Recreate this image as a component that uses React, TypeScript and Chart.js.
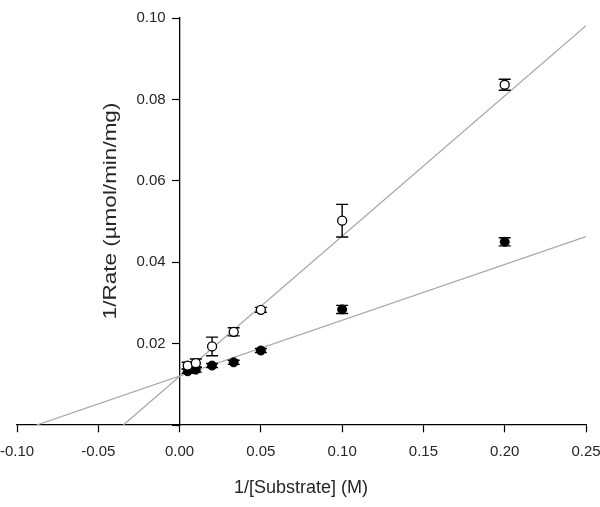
import React, { useEffect, useRef } from 'react';
import { Chart, registerables } from 'chart.js';

Chart.register(...registerables);

// ---- data ----
const substrateInv = [0.005, 0.01, 0.02, 0.0333, 0.05, 0.1, 0.2];
const rateOpen = [0.0146, 0.0152, 0.0193, 0.0229, 0.0283, 0.0502, 0.0836];
const errOpen = [0.0008, 0.001, 0.0023, 0.001, 0.0006, 0.004, 0.00135];
const rateFilled = [0.0132, 0.0136, 0.0146, 0.0154, 0.0183, 0.0284, 0.045];
const errFilled = [0.0005, 0.0006, 0.0005, 0.0005, 0.0005, 0.001, 0.001];

const fitOpenX = [-0.0346, 0.25];
const fitOpenY = [0, 0.0981];
const fitFilledX = [-0.0879, 0.25];
const fitFilledY = [0, 0.0463];

const xTickValues = [-0.1, -0.05, 0, 0.05, 0.1, 0.15, 0.2, 0.25];
const yTickValues = [0, 0.02, 0.04, 0.06, 0.08, 0.1];

const xTitle = '1/[Substrate] (M)';
const yTitle = '1/Rate (\u00b5mol/min/mg)';

const FONT = "'Liberation Sans', Arial, sans-serif";
const TEXT_COLOR = '#262626';

const errorsByDataset: Record<number, number[]> = { 0: errOpen, 1: errFilled };

const errorBarPlugin = {
  id: 'errorBars',
  beforeDatasetDraw(chart: any, args: any) {
    const errs = errorsByDataset[args.index];
    if (!errs) return;
    const ds = chart.data.datasets[args.index];
    const meta = chart.getDatasetMeta(args.index);
    const ys = chart.scales.y;
    const ctx = chart.ctx;
    ctx.save();
    ctx.strokeStyle = '#000';
    ctx.lineWidth = 1.4;
    meta.data.forEach((pt: any, i: number) => {
      const d = ds.data[i];
      const e = errs[i];
      const x = pt.x;
      const yTop = ys.getPixelForValue(d.y + e);
      const yBot = ys.getPixelForValue(d.y - e);
      ctx.beginPath();
      ctx.moveTo(x, yTop);
      ctx.lineTo(x, yBot);
      ctx.moveTo(x - 6, yTop);
      ctx.lineTo(x + 6, yTop);
      ctx.moveTo(x - 6, yBot);
      ctx.lineTo(x + 6, yBot);
      ctx.stroke();
    });
    ctx.restore();
  },
};

const labelsPlugin = {
  id: 'customLabels',
  afterDraw(chart: any) {
    const ctx = chart.ctx;
    const xs = chart.scales.x;
    const ys = chart.scales.y;
    const axisX = xs.getPixelForValue(0);
    ctx.save();
    ctx.fillStyle = TEXT_COLOR;
    ctx.font = `15px ${FONT}`;
    ctx.textAlign = 'right';
    ctx.textBaseline = 'middle';
    ys.ticks.forEach((t: any) => {
      if (t.value === 0) return;
      ctx.fillText(Number(t.value).toFixed(2), axisX - 14, ys.getPixelForValue(t.value));
    });
    ctx.font = `18px ${FONT}`;
    ctx.textAlign = 'center';
    ctx.fillText(xTitle, 301, 488);
    ctx.translate(111, 211);
    ctx.rotate(-Math.PI / 2);
    ctx.scale(1.25, 1);
    ctx.fillText(yTitle, 0, 0);
    ctx.restore();
  },
};

export default function App() {
  const ref = useRef<HTMLCanvasElement>(null);

  useEffect(() => {
    if (!ref.current) return;
    const chart = new Chart(ref.current, {
      type: 'scatter',
      data: {
        datasets: [
          {
            label: 'open',
            data: substrateInv.map((x, i) => ({ x, y: rateOpen[i] })),
            pointRadius: 4.5,
            pointBackgroundColor: '#ffffff',
            pointBorderColor: '#000000',
            pointBorderWidth: 1.3,
            showLine: false,
          },
          {
            label: 'filled',
            data: substrateInv.map((x, i) => ({ x, y: rateFilled[i] })),
            pointRadius: 4.5,
            pointBackgroundColor: '#000000',
            pointBorderColor: '#000000',
            pointBorderWidth: 1,
            showLine: false,
          },
          {
            label: 'fitOpen',
            data: fitOpenX.map((x, i) => ({ x, y: fitOpenY[i] })),
            showLine: true,
            pointRadius: 0,
            borderColor: '#a8a8a8',
            borderWidth: 1.3,
          },
          {
            label: 'fitFilled',
            data: fitFilledX.map((x, i) => ({ x, y: fitFilledY[i] })),
            showLine: true,
            pointRadius: 0,
            borderColor: '#a8a8a8',
            borderWidth: 1.3,
          },
        ],
      },
      options: {
        animation: false,
        responsive: true,
        maintainAspectRatio: false,
        layout: { padding: { left: 17, top: 18, right: 14, bottom: 82 } },
        plugins: { legend: { display: false }, tooltip: { enabled: false } },
        scales: {
          x: {
            type: 'linear',
            position: { y: 0 } as any,
            min: -0.1,
            max: 0.25,
            afterBuildTicks: (s: any) => {
              s.ticks = xTickValues.map((v) => ({ value: v }));
            },
            afterFit: (s: any) => {
              s.paddingLeft = 0;
              s.paddingRight = 0;
              s.paddingTop = 0;
              s.paddingBottom = 0;
            },
            ticks: {
              callback: (v: any) => Number(v).toFixed(2),
              font: { family: FONT, size: 15 },
              color: TEXT_COLOR,
              padding: 11,
              maxRotation: 0,
              autoSkip: false,
            },
            grid: { drawOnChartArea: false, drawTicks: true, tickLength: 7, color: '#000', tickWidth: 1.2 },
            border: { display: true, color: '#000', width: 1.3 },
          },
          y: {
            type: 'linear',
            position: { x: 0 } as any,
            min: 0,
            max: 0.1,
            afterBuildTicks: (s: any) => {
              s.ticks = yTickValues.map((v) => ({ value: v }));
            },
            afterFit: (s: any) => {
              s.paddingLeft = 0;
              s.paddingRight = 0;
              s.paddingTop = 0;
              s.paddingBottom = 0;
            },
            ticks: { display: false },
            grid: { drawOnChartArea: false, drawTicks: true, tickLength: 7, color: '#000', tickWidth: 1.2 },
            border: { display: true, color: '#000', width: 1.3 },
          },
        },
      },
      plugins: [errorBarPlugin, labelsPlugin],
    });
    return () => chart.destroy();
  }, []);

  return (
    <div style={{ position: 'absolute', left: 0, top: 0, width: 600, height: 507, background: '#fff' }}>
      <canvas ref={ref} />
    </div>
  );
}
